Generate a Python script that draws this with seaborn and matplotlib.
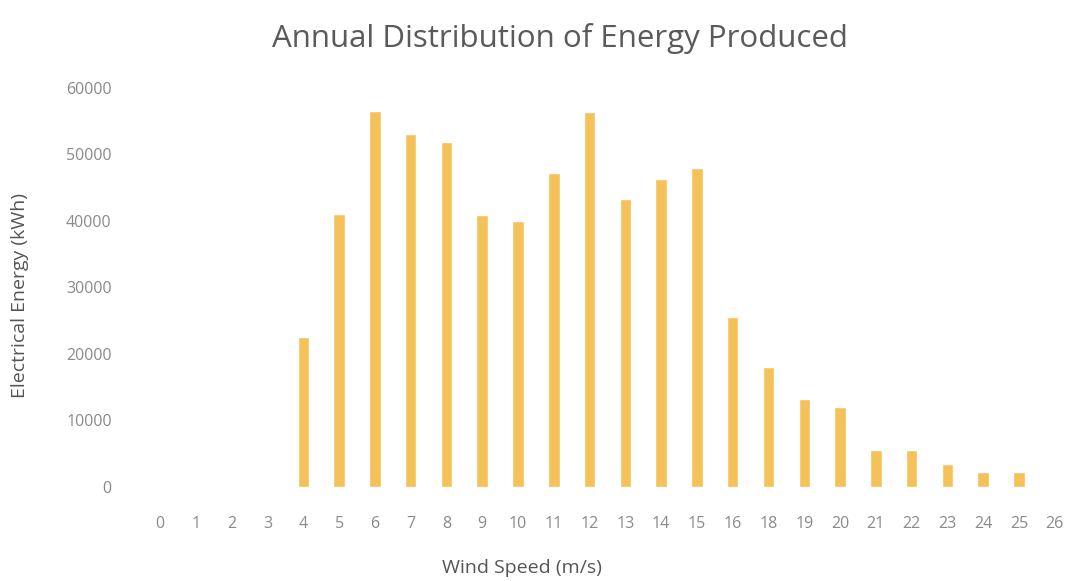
import matplotlib
matplotlib.use("Agg")
import matplotlib.pyplot as plt
import seaborn as sns
import pandas as pd

# Wind speed bins (m/s) and annual energy produced in each bin (kWh)
wind_speed = ["0", "1", "2", "3", "4", "5", "6", "7", "8", "9", "10", "11", "12",
              "13", "14", "15", "16", "18", "19", "20", "21", "22", "23", "24", "25", "26"]
energy_kwh = [0, 0, 0, 0, 22500, 41000, 56500, 53000, 51800, 40800, 40000, 47200, 56300,
              43300, 46300, 48000, 25600, 18000, 13200, 12000, 5600, 5500, 3400, 2300, 2200, 0]
y_ticks = [0, 10000, 20000, 30000, 40000, 50000, 60000]

df = pd.DataFrame({"speed": wind_speed, "energy": energy_kwh})

sns.set_theme(style="white")
plt.rcParams["font.family"] = ["Open Sans", "DejaVu Sans"]

fig = plt.figure(figsize=(10.78, 5.81), dpi=100)
ax = fig.add_axes([0.132, 0.162, 0.863, 0.687])

sns.barplot(data=df, x="speed", y="energy", order=wind_speed, color="#F5C25A",
            saturation=1, width=0.32, ax=ax)

text_grey = "#8a8a8a"
ax.set_ylim(0, 60000)
ax.set_xlim(-0.5, len(wind_speed) - 0.5)
ax.set_yticks(y_ticks)
ax.set_yticklabels([str(v) for v in y_ticks], color=text_grey, fontsize=11.5)
ax.tick_params(axis="x", colors=text_grey, labelsize=11.5, length=0, pad=21)
ax.tick_params(axis="y", length=0, pad=22)
for s in ax.spines.values():
    s.set_visible(False)
ax.grid(False)

ax.set_xlabel("Wind Speed (m/s)", color="#555555", fontsize=14)
ax.xaxis.set_label_coords(0.408, -0.18)
ax.set_ylabel("Electrical Energy (kWh)", color="#555555", fontsize=14)
ax.yaxis.set_label_coords(-0.122, 0.48)
fig.suptitle("Annual Distribution of Energy Produced", x=0.519, y=0.96,
             color="#5a5a5a", fontsize=22.5)

fig.savefig("out.png", dpi=100, facecolor="white")
